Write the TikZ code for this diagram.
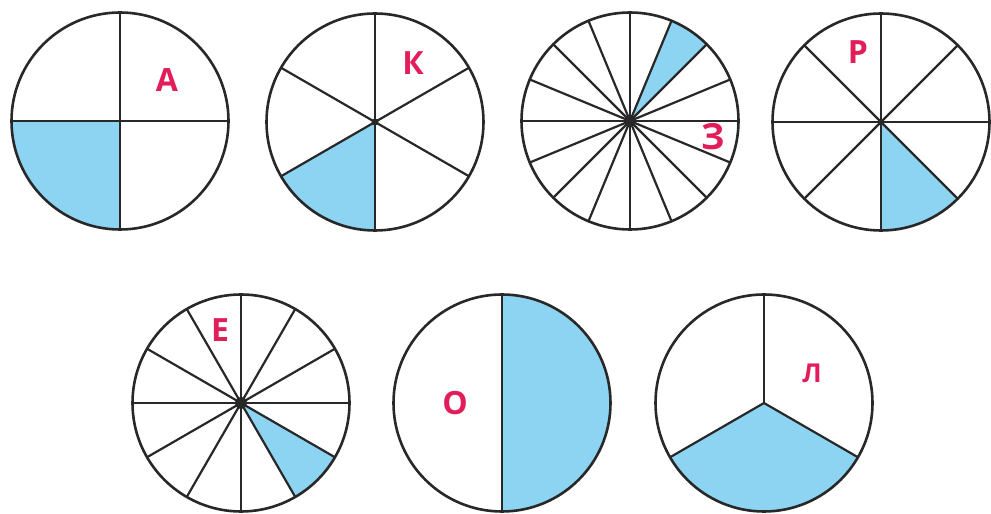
\documentclass[tikz,border=0pt]{standalone}
\usepackage{fontspec}
\setmainfont{Open Sans}
\definecolor{pieblue}{RGB}{140,212,242}
\definecolor{labelred}{RGB}{226,30,90}
\definecolor{pieline}{RGB}{40,40,40}
\tikzset{
  rim/.style={draw=pieline,line width=2.6pt},
  spoke/.style={draw=pieline,line width=2.2pt},
  share/.style={fill=pieblue},
  letter/.style={text=labelred,font=\fontsize{32}{32}\selectfont\bfseries,inner sep=0pt},
  hub/.style={fill=pieline}
}
\newcommand{\mypie}[5]{%
  \fill[share] (#1) -- ++(#4:#2) arc[start angle=#4,end angle=#5,radius=#2] -- cycle;
  \foreach \k in {1,...,#3} \draw[spoke] (#1) -- ++({90+360*\k/#3}:#2);
  \draw[rim] (#1) circle[radius=#2];
}
\begin{document}
\begin{tikzpicture}[x=1pt,y=1pt]
\useasboundingbox (0,0) rectangle (991,514);
\coordinate (cA) at (120,393);
\coordinate (cK) at (375,392);
\coordinate (cZ) at (630,393);
\coordinate (cR) at (881,392);
\coordinate (cE) at (241,111);
\coordinate (cO) at (502,111);
\coordinate (cL) at (764,111);
\mypie{cA}{108.5}{4}{180}{270}
\mypie{cK}{108.5}{6}{210}{270}
\mypie{cZ}{108.5}{16}{45}{67.5}
\mypie{cR}{108.5}{8}{270}{315}
\mypie{cE}{108.5}{12}{-60}{-30}
\mypie{cO}{108.5}{2}{-90}{90}
\mypie{cL}{108.5}{3}{210}{330}
\fill[hub] (cZ) circle[radius=6];
\fill[hub] (cE) circle[radius=6];
\fill[hub] (cK) circle[radius=3.5];
\fill[hub] (cR) circle[radius=3];
\node[letter] (lA) at (167,434) {А};
\node[letter] (lK) at (413,451) {К};
\node[letter,font=\fontsize{36}{36}\selectfont\bfseries] (lZ) at (713,377) {З};
\node[letter] (lR) at (858,462) {Р};
\node[letter] (lE) at (220,184) {Е};
\node[letter] (lO) at (455,111) {О};
\node[letter,font=\fontsize{26}{26}\selectfont\bfseries] (lL) at (812,141) {Л};
\end{tikzpicture}
\end{document}
